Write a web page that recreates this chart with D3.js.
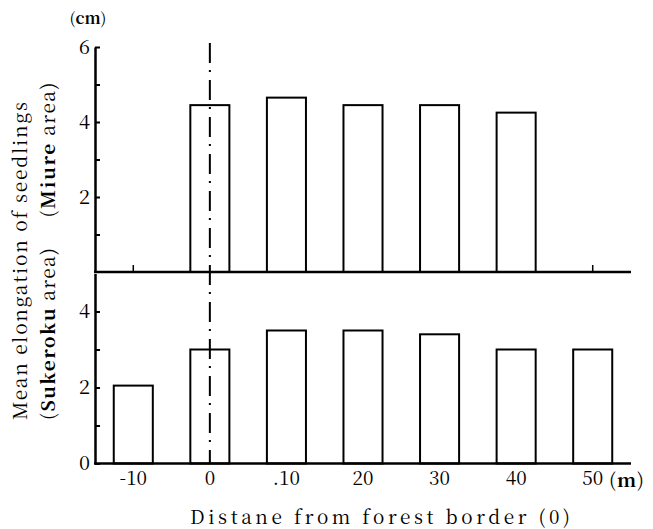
<!DOCTYPE html>
<html>
<head>
<meta charset="utf-8">
<script src="https://cdn.jsdelivr.net/npm/d3@7"></script>
<style>
  body { margin: 0; background: #fff; }
  svg { display: block; }
</style>
</head>
<body>
<div class="chart"></div>
<script>
// data
var distances = ["-10", "0", ".10", "20", "30", "40", "50"];
var miure = [null, 4.45, 4.65, 4.45, 4.45, 4.25, null];      // cm, upper panel
var sukeroku = [2.05, 3.0, 3.5, 3.5, 3.4, 3.0, 3.0];          // cm, lower panel
var miureTicks = [2, 4, 6];
var miureMinor = [1, 3, 5];
var sukerokuTicks = [0, 2, 4];
var sukerokuMinor = [1, 3];

var svgWidth = 653;
var svgHeight = 529;
var serif = "'Noto Serif CJK JP', 'Liberation Serif', serif";

var svg = d3.select(".chart")
  .append("svg")
  .attr("width", svgWidth)
  .attr("height", svgHeight);

// scales
var x = d3.scaleBand()
  .domain(distances)
  .range([95, 631])
  .paddingInner(0.49)
  .paddingOuter(0.245);

var yTop = d3.scaleLinear().domain([0, 6]).range([272, 47]);
var yBot = d3.scaleLinear().domain([0, 5]).range([463.5, 273.5]);

// x ticks (pointing up) under each panel, bars cover most of them
[272, 463.5].forEach(function(yy) {
  svg.append("g")
    .attr("transform", "translate(0," + yy + ")")
    .call(d3.axisBottom(x).tickSizeInner(-7).tickSizeOuter(0).tickFormat(""))
    .call(function(g) { g.select(".domain").remove(); })
    .selectAll("line").attr("stroke", "#000").attr("stroke-width", 1.5);
});

// bars
function drawBars(values, y) {
  svg.append("g")
    .selectAll("rect")
    .data(distances.map(function(d, i) { return { d: d, v: values[i] }; })
      .filter(function(o) { return o.v != null; }))
    .enter()
    .append("rect")
    .attr("x", function(o) { return x(o.d); })
    .attr("y", function(o) { return y(o.v); })
    .attr("width", x.bandwidth())
    .attr("height", function(o) { return y(0) - y(o.v); })
    .attr("fill", "#fff")
    .attr("stroke", "#000")
    .attr("stroke-width", 2);
}
drawBars(miure, yTop);
drawBars(sukeroku, yBot);

// y axes
function yAxis(scale, major, minor) {
  var g = svg.append("g")
    .attr("transform", "translate(95,0)")
    .call(d3.axisLeft(scale).tickValues(major).tickFormat(d3.format("d"))
      .tickSizeInner(-5).tickSizeOuter(0).tickPadding(5));
  g.select(".domain").attr("stroke", "#000").attr("stroke-width", 2.5);
  g.selectAll("line").attr("stroke", "#000").attr("stroke-width", 2);
  g.selectAll("text")
    .attr("fill", "#000")
    .style("font-family", serif)
    .style("font-size", "20px");

  svg.append("g")
    .attr("transform", "translate(95,0)")
    .call(d3.axisLeft(scale).tickValues(minor).tickSizeInner(-5).tickSizeOuter(0).tickFormat(""))
    .call(function(g) { g.select(".domain").remove(); })
    .selectAll("line").attr("stroke", "#000").attr("stroke-width", 2);
}
yAxis(yTop, miureTicks, miureMinor);
yAxis(yBot, sukerokuTicks, sukerokuMinor);

// baselines
[272, 463.5].forEach(function(yy) {
  svg.append("line")
    .attr("x1", 94).attr("x2", 631)
    .attr("y1", yy).attr("y2", yy)
    .attr("stroke", "#000")
    .attr("stroke-width", 2.5);
});

// x tick labels
svg.append("g")
  .attr("transform", "translate(0,463.5)")
  .call(d3.axisBottom(x).tickSize(0).tickPadding(8))
  .call(function(g) { g.select(".domain").remove(); })
  .selectAll("text")
  .attr("fill", "#000")
  .style("font-family", serif)
  .style("font-size", "19px");

// forest border line (dash-dot)
svg.append("line")
  .attr("x1", x("0") + x.bandwidth() / 2)
  .attr("x2", x("0") + x.bandwidth() / 2)
  .attr("y1", 43)
  .attr("y2", 463)
  .attr("stroke", "#000")
  .attr("stroke-width", 2)
  .attr("stroke-dasharray", "20,7,2,8");

// unit labels
var cm = svg.append("text")
  .attr("x", 88).attr("y", 24)
  .attr("text-anchor", "middle")
  .style("font-family", serif)
  .style("font-size", "16px");
cm.append("tspan").text("(");
cm.append("tspan").style("font-weight", "bold").text("cm");
cm.append("tspan").text(")");

var mUnit = svg.append("text")
  .attr("x", 609).attr("y", 487)
  .attr("textLength", 35)
  .attr("lengthAdjust", "spacing")
  .style("font-family", serif)
  .style("font-size", "19px");
mUnit.append("tspan").text("(");
mUnit.append("tspan").style("font-weight", "bold").text("m");
mUnit.append("tspan").text(")");

// x axis title
svg.append("text")
  .attr("x", 190).attr("y", 524)
  .attr("textLength", 380)
  .attr("lengthAdjust", "spacing")
  .style("font-family", serif)
  .style("font-size", "19px")
  .text("Distane from forest border (0)");

// y axis titles
svg.append("text")
  .attr("transform", "translate(27,261) rotate(-90)")
  .attr("text-anchor", "middle")
  .attr("textLength", 318)
  .attr("lengthAdjust", "spacing")
  .style("font-family", serif)
  .style("font-size", "19px")
  .text("Mean elongation of seedlings");

function areaLabel(name, cx, cy, len) {
  var t = svg.append("text")
    .attr("transform", "translate(" + cx + "," + cy + ") rotate(-90)")
    .attr("text-anchor", "middle")
    .attr("textLength", len)
    .attr("lengthAdjust", "spacing")
    .style("font-family", serif)
    .style("font-size", "19px");
  t.append("tspan").text("(");
  t.append("tspan").style("font-weight", "bold").text(name);
  t.append("tspan").text(" area)");
}
areaLabel("Sukeroku", 55, 334, 172);
areaLabel("Miure", 55, 150, 135);
</script>
</body>
</html>
